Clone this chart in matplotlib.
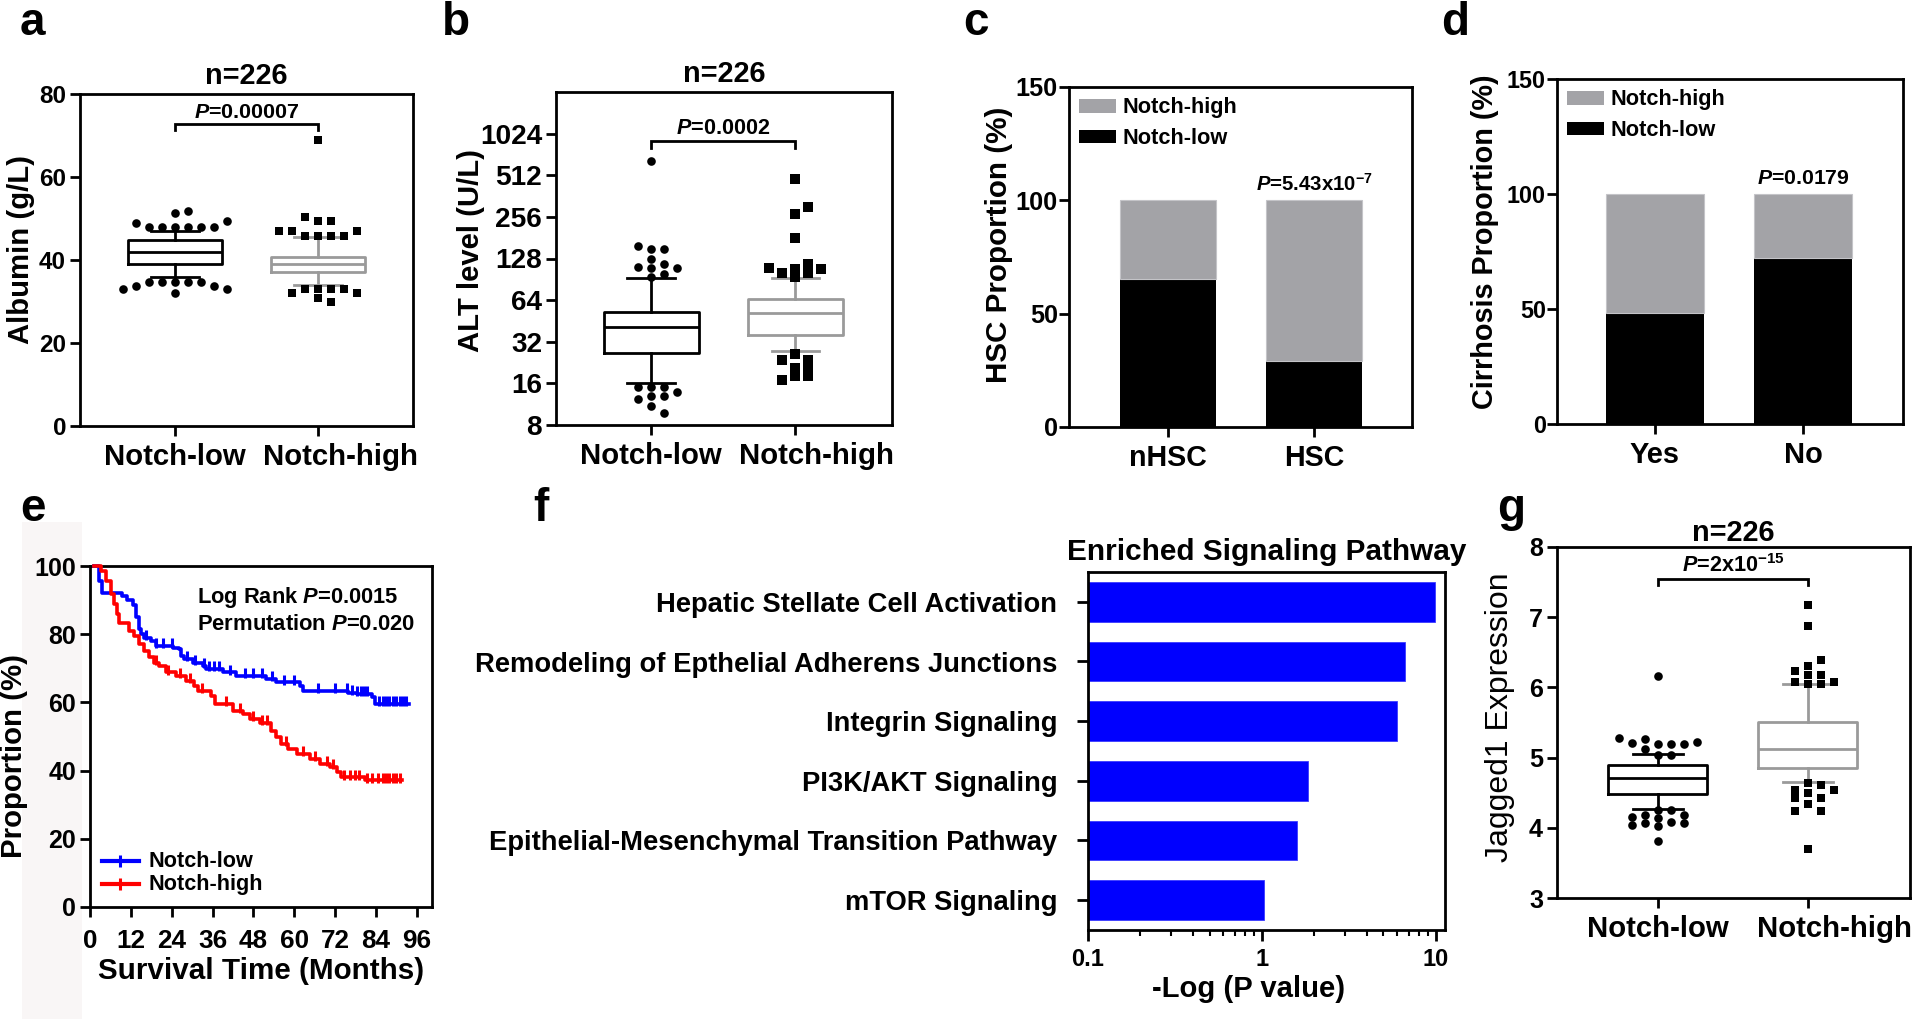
import numpy as np
import matplotlib
matplotlib.use('Agg')
import matplotlib.pyplot as plt
from matplotlib.patches import Patch, Rectangle
from matplotlib.lines import Line2D
import matplotlib.ticker as mticker
from matplotlib.transforms import ScaledTranslation

# ---------------- data ----------------
group_labels = ['Notch-low', 'Notch-high']

# (a) Albumin: whislo, q1, median, q3, whishi
alb_low_box = [36.0, 39.1, 42.0, 44.9, 46.9]
alb_high_box = [34.0, 37.1, 39.0, 40.8, 45.5]
alb_low_out = [47.9, 47.9, 47.9, 47.9, 47.9, 47.9, 49.0, 49.3, 51.3, 51.9,
               34.8, 34.8, 34.8, 34.8, 34.8, 33.8, 33.8, 33.0, 33.0, 32.0]
alb_high_out = [45.9, 45.9, 45.9, 45.9, 47.1, 47.1, 47.1, 49.3, 49.3, 50.3, 69.0,
                33.0, 33.0, 33.0, 33.0, 32.0, 32.0, 30.9, 30.0]
alb_yticks = [0, 20, 40, 60, 80]

# (b) ALT
alt_low_box = [16.2, 26.7, 40.9, 52.5, 92.8]
alt_high_box = [27.3, 36.0, 51.6, 65.1, 92.8]
alt_low_out = [94, 99, 110, 112, 110, 117, 127, 150, 150, 158, 650,
               15.1, 15.1, 15.1, 13.9, 12.9, 12.9, 12.4, 11.0, 9.8]
alt_high_out = [94, 100, 100, 108, 108, 110, 117, 180, 268, 300, 480,
                26.0, 23.8, 23.8, 20.5, 20.5, 18.0, 18.0, 16.9]
alt_yticks = [8, 16, 32, 64, 128, 256, 512, 1024]

# (c) HSC proportion
hsc_cats = ['nHSC', 'HSC']
hsc_low = [65.3, 29.3]
hsc_high = [34.7, 70.7]

# (d) Cirrhosis proportion
cir_cats = ['Yes', 'No']
cir_low = [48.3, 72.2]
cir_high = [51.7, 27.8]
prop_yticks = [0, 50, 100, 150]

# (e) Kaplan-Meier
km_low_t = [1.2, 2.7, 3.6, 9.5, 11.0, 12.5, 13.5, 14.3, 15.0, 15.9, 17.9, 19.4, 24.3, 26.3,
            26.7, 27.7, 30.2, 33.1, 34.1, 39.0, 43.0, 51.8, 54.8, 61.7, 62.6, 75.9, 78.4,
            82.8, 83.8, 93.6]
km_low_s = [100, 95.6, 92.2, 91.2, 90.0, 88.5, 85.0, 81.5, 80.0, 79.0, 78.0, 76.6, 76.0, 75.6,
            73.7, 72.7, 71.7, 70.7, 69.8, 68.8, 67.8, 66.8, 65.9, 64.9, 63.4, 62.9, 62.4,
            61.5, 59.5, 59.5]
km_high_t = [1.2, 3.1, 4.6, 6.1, 7.1, 7.8, 8.6, 11.5, 13.0, 14.5, 15.9, 17.4, 18.9, 20.4,
             22.3, 25.3, 28.2, 30.7, 31.7, 35.6, 36.6, 42.0, 45.0, 46.9, 49.9, 53.3, 54.8,
             56.2, 58.2, 60.7, 64.6, 67.6, 70.5, 72.5, 73.9, 80.8, 91.6]
km_high_s = [100, 98.5, 95.6, 91.7, 88.8, 85.9, 83.4, 81.0, 79.5, 77.0, 75.1, 73.2, 71.7, 70.7,
             68.8, 67.8, 66.3, 64.9, 63.4, 62.0, 59.5, 57.6, 56.6, 55.1, 54.1, 51.7, 49.8,
             47.8, 46.3, 44.9, 43.4, 42.0, 41.0, 39.5, 38.0, 37.1, 37.1]
km_low_censor = [16.5, 19.5, 21.5, 24.0, 28.5, 31.0, 33.5, 35.0, 36.5, 38.0, 41.0, 45.5, 48.0,
                 50.5, 53.5, 57.0, 60.0, 67.0, 72.0, 75.5, 77.0, 78.5, 79.5, 80.5, 81.5, 85.0,
                 86.0, 87.0, 88.0, 89.0, 90.0, 91.0, 92.0, 93.0]
km_high_censor = [19.5, 23.0, 26.5, 29.5, 33.0, 40.0, 44.0, 48.0, 50.5, 52.0, 57.5, 62.5, 66.0,
                  69.5, 71.5, 74.5, 76.5, 78.0, 79.0, 81.5, 83.0, 84.5, 86.0, 87.0, 88.0, 89.0,
                  90.0, 91.0]
km_xticks = [0, 12, 24, 36, 48, 60, 72, 84, 96]
km_yticks = [0, 20, 40, 60, 80, 100]

# (f) Enriched pathways
path_names = ['Hepatic Stellate Cell Activation',
              'Remodeling of Epthelial Adherens Junctions',
              'Integrin Signaling',
              'PI3K/AKT Signaling',
              'Epithelial-Mesenchymal Transition Pathway',
              'mTOR Signaling']
path_vals = [9.8, 6.52, 5.92, 1.75, 1.49, 0.93]

# (g) Jagged1
jag_low_box = [4.27, 4.48, 4.71, 4.90, 5.05]
jag_high_box = [4.65, 4.85, 5.12, 5.50, 6.05]
jag_low_out = [5.04, 5.04, 5.12, 5.19, 5.19, 5.19, 5.21, 5.22, 5.26, 5.28, 6.16,
               4.26, 4.26, 4.18, 4.18, 4.16, 4.14, 4.08, 4.07, 4.07, 4.04, 4.02, 3.81]
jag_high_out = [6.05, 6.05, 6.07, 6.08, 6.17, 6.17, 6.24, 6.31, 6.39, 6.88, 7.18,
                4.64, 4.61, 4.54, 4.54, 4.49, 4.43, 4.42, 4.34, 4.24, 4.24, 3.70]
jag_yticks = [3, 4, 5, 6, 7, 8]

# ---------------- style ----------------
FONT = 'Liberation Sans'
plt.rcParams['font.family'] = [FONT, 'DejaVu Sans']
plt.rcParams['font.weight'] = 'bold'
plt.rcParams['axes.labelweight'] = 'bold'
plt.rcParams['axes.titleweight'] = 'bold'
plt.rcParams['axes.linewidth'] = 2.0
plt.rcParams['mathtext.fontset'] = 'custom'
plt.rcParams['mathtext.rm'] = FONT + ':bold'
plt.rcParams['mathtext.it'] = FONT + ':italic:bold'
plt.rcParams['mathtext.bf'] = FONT + ':bold'
plt.rcParams['mathtext.default'] = 'rm'

W, H = 1920, 1019
fig = plt.figure(figsize=(W / 100, H / 100), dpi=100)
fig.patch.set_facecolor('white')

BLACK = '#000000'
GRAYLINE = '#9a9a9a'
GRAYBAR = '#a3a3a7'

fit_texts = []     # (text artist, target width px)


def add_axes_px(l, r, t, b):
    return fig.add_axes([l / W, 1 - b / H, (r - l) / W, (b - t) / H])


def style_axes(ax, xsize, ysize, ypad=3, xpad=5):
    ax.tick_params(axis='both', which='major', direction='out', length=7, width=2,
                   top=False, right=False)
    ax.tick_params(axis='x', labelsize=xsize, pad=xpad)
    ax.tick_params(axis='y', labelsize=ysize, pad=ypad)


def box_stats(b):
    return dict(whislo=b[0], q1=b[1], med=b[2], q3=b[3], whishi=b[4], fliers=[])


def draw_box(ax, pos, b, color, width=0.66):
    ax.bxp([box_stats(b)], positions=[pos], widths=width, capwidths=width * 0.5,
           showfliers=False, manage_ticks=False,
           boxprops=dict(color=color, linewidth=2),
           medianprops=dict(color=color, linewidth=2),
           whiskerprops=dict(color=color, linewidth=2),
           capprops=dict(color=color, linewidth=2))


def swarm_x(ax, values, center, sep_px=13.0, dy_px=7.5):
    pos = ax.get_position()
    x0, x1 = ax.get_xlim()
    upp = (x1 - x0) / (pos.width * W)
    pts = np.column_stack([np.full(len(values), center), np.asarray(values, float)])
    ys = ax.transData.transform(pts)[:, 1]
    cands = [0.0]
    for k in range(1, 30):
        cands += [k * sep_px / 2, -k * sep_px / 2]
    placed, xs = [], []
    for y in ys:
        for c in cands:
            if all(abs(c - px) >= sep_px * 0.95 or abs(y - py) >= dy_px for px, py in placed):
                placed.append((c, y))
                xs.append(center + c * upp)
                break
    return np.array(xs)


def bracket(ax, y_low, y_high, text, ty, fs, target):
    ax.plot([0, 0, 1, 1], [y_low, y_high, y_high, y_low], color='black', lw=2,
            solid_joinstyle='miter', clip_on=False)
    t = ax.text(0.5, ty, text, ha='center', va='center', fontsize=fs, fontweight='bold')
    fit_texts.append((t, target))


def letter(x, y, s):
    fig.text(x / W, 1 - y / H, s, fontsize=33, fontweight='bold', ha='left', va='baseline')


# ---------------- panel a ----------------
axa = add_axes_px(80, 413, 94, 426)
axa.set_xlim(-0.665, 1.665)
axa.set_ylim(0, 80)
axa.set_yticks(alb_yticks)
axa.set_xticks([0, 1])
axa.set_xticklabels(group_labels)
draw_box(axa, 0, alb_low_box, BLACK)
draw_box(axa, 1, alb_high_box, GRAYLINE)
axa.plot(swarm_x(axa, alb_low_out, 0), alb_low_out, 'o', color='black', ms=6.2, mew=0)
axa.plot(swarm_x(axa, alb_high_out, 1), alb_high_out, 's', color='black', ms=6.2, mew=0)
bracket(axa, 71.4, 72.8, r'$\mathit{P}$=0.00007', 75.6, 14, 106)
axa.set_title('n=226', fontsize=17, pad=7)
axa.set_ylabel('Albumin (g/L)', fontsize=18)
axa.yaxis.set_label_coords(-0.135, 0.533)
style_axes(axa, 20, 14.5)
letter(20, 35, 'a')

# ---------------- panel b ----------------
axb = add_axes_px(556, 892, 92, 425)
axb.set_yscale('log', base=2)
axb.set_xlim(-0.66, 1.67)
axb.set_ylim(8, 2048)
axb.set_yticks(alt_yticks)
axb.yaxis.set_major_formatter(mticker.FuncFormatter(lambda v, p: '%d' % round(v)))
axb.yaxis.set_minor_locator(mticker.NullLocator())
axb.set_xticks([0, 1])
axb.set_xticklabels(group_labels)
draw_box(axb, 0, alt_low_box, BLACK)
draw_box(axb, 1, alt_high_box, GRAYLINE)
axb.plot(swarm_x(axb, alt_low_out, 0), alt_low_out, 'o', color='black', ms=6.2, mew=0)
axb.plot(swarm_x(axb, alt_high_out, 1), alt_high_out, 's', color='black', ms=6.5, mew=0)
axb.plot([0, 0, 1, 1], [810, 905, 905, 810], color='black', lw=2, solid_joinstyle='miter')
tb = axb.text(0.5, 1110, r'$\mathit{P}$=0.0002', ha='center', va='center', fontsize=14)
fit_texts.append((tb, 95))
axb.set_title('n=226', fontsize=17, pad=7)
axb.set_ylabel('ALT level (U/L)', fontsize=17)
axb.yaxis.set_label_coords(-0.21, 0.524)
style_axes(axb, 20, 14.5)
letter(442, 35, 'b')


# ---------------- panels c, d ----------------
def stacked(ax, cats, low, high, ylabel, ptext, pidx, ptarget):
    x = np.arange(len(cats))
    ax.bar(x, low, width=0.66, color=BLACK, edgecolor=BLACK, linewidth=0)
    ax.bar(x, high, bottom=low, width=0.66, color=GRAYBAR, edgecolor='#c4c4c8', linewidth=0.8)
    ax.set_ylim(0, 150)
    ax.set_yticks(prop_yticks)
    ax.set_xticks(x)
    ax.set_xticklabels(cats)
    tops = np.asarray(low) + np.asarray(high)
    t = ax.text(x[pidx], tops[pidx] + 2.5, ptext, ha='center', va='bottom', fontsize=13)
    fit_texts.append((t, ptarget))
    handles = [Patch(facecolor=GRAYBAR, edgecolor='none', label='Notch-high'),
               Patch(facecolor=BLACK, edgecolor='none', label='Notch-low')]
    leg = ax.legend(handles=handles, loc='upper left', bbox_to_anchor=(0.0, 1.0), frameon=False,
                    handlelength=1.75, handleheight=0.65, handletextpad=0.3,
                    labelspacing=0.45, borderaxespad=0.2, borderpad=0.3,
                    prop=dict(weight='bold', size=15))
    fit_texts.append((leg.get_texts()[0], 115))
    fit_texts.append((leg.get_texts()[1], 106))
    ax.set_ylabel(ylabel, fontsize=18)
    style_axes(ax, 19, 15.5, ypad=1)


axc = add_axes_px(1069, 1412, 87, 427)
axc.set_xlim(-0.68, 1.67)
stacked(axc, hsc_cats, hsc_low, hsc_high, 'HSC Proportion (%)',
        r'$\mathit{P}$=5.43x10$^{-7}$', 1, 117)
axc.yaxis.set_label_coords(-0.162, 0.535)
letter(963, 35, 'c')

axd = add_axes_px(1557, 1903, 79, 424)
axd.set_xlim(-0.662, 1.676)
stacked(axd, cir_cats, cir_low, cir_high, 'Cirrhosis Proportion (%)',
        r'$\mathit{P}$=0.0179', 1, 93)
axd.yaxis.set_label_coords(-0.168, 0.527)
letter(1441, 35, 'd')

# ---------------- panel e ----------------
fig.patches.append(Rectangle((22 / W, 0), 60 / W, 1 - 522 / H, transform=fig.transFigure,
                             facecolor='#f9f6f6', edgecolor='none', zorder=-10))
axe = add_axes_px(90, 432, 566, 907)
axe.set_xlim(0, 100.5)
axe.set_ylim(0, 100)
axe.set_xticks(km_xticks)
axe.set_yticks(km_yticks)
BLUE, RED = '#0000ff', '#ff0000'


def km(ax, t, s, cens, color):
    t = np.asarray(t, float)
    s = np.asarray(s, float)
    ax.step(t, s, where='post', color=color, lw=2.6, clip_on=False, zorder=3)
    cens = np.asarray(cens, float)
    idx = np.searchsorted(t, cens, side='right') - 1
    ax.plot(cens, s[idx] + 0.8, '|', color=color, ms=7, mew=2.2, zorder=3)


km(axe, km_low_t, km_low_s, km_low_censor, BLUE)
km(axe, km_high_t, km_high_s, km_high_censor, RED)
leg_handles = [Line2D([], [], color=BLUE, lw=3, marker='|', ms=8, mew=2.2),
               Line2D([], [], color=RED, lw=3, marker='|', ms=8, mew=2.2)]
lege = axe.legend(leg_handles, group_labels, loc='lower left', frameon=False,
                  prop=dict(weight='bold', size=14), handlelength=1.9, handletextpad=0.5,
                  labelspacing=0.1, borderaxespad=0.4, borderpad=0.2)
fit_texts.append((lege.get_texts()[0], 105))
fit_texts.append((lege.get_texts()[1], 115))
t1 = axe.text(0.313, 0.907, r'Log Rank $\mathit{P}$=0.0015', transform=axe.transAxes,
              ha='left', va='center', fontsize=13.5)
t2 = axe.text(0.313, 0.828, r'Permutation $\mathit{P}$=0.020', transform=axe.transAxes,
              ha='left', va='center', fontsize=13.5)
fit_texts.append((t1, 202))
fit_texts.append((t2, 218))
axe.set_xlabel('Survival Time (Months)', fontsize=18, labelpad=3)
axe.set_ylabel('Proportion (%)', fontsize=18)
axe.yaxis.set_label_coords(-0.181, 0.444)
style_axes(axe, 16.5, 15, xpad=9)
letter(20, 521, 'e')

# ---------------- panel f ----------------
axf = add_axes_px(1088, 1445, 572, 930)
axf.set_xscale('log')
axf.set_xlim(0.1, 11.3)
yy = np.arange(len(path_names))
axf.barh(yy, path_vals, left=0.1, height=0.67, color='#0000ff', edgecolor='#3a3aff',
         linewidth=0.6)
axf.set_ylim(len(path_names) - 0.5, -0.5)
axf.set_yticks(yy)
axf.set_yticklabels(path_names)
axf.set_xticks([0.1, 1, 10])
axf.xaxis.set_major_formatter(mticker.FuncFormatter(lambda v, p: ('%g' % v)))
axf.xaxis.set_minor_locator(mticker.LogLocator(base=10, subs=np.arange(2, 10) / 10.0 * 10 / 10))
axf.xaxis.set_minor_formatter(mticker.NullFormatter())
axf.set_title('Enriched Signaling Pathway', fontsize=17.5, pad=9)
axf.set_xlabel('-Log (P value)', fontsize=17, labelpad=4)
axf.xaxis.set_label_coords(0.45, -0.125)
style_axes(axf, 15, 16)
axf.tick_params(axis='y', length=8, pad=14)
axf.tick_params(axis='x', which='major', length=8)
axf.tick_params(axis='x', which='minor', direction='out', length=4, width=1.5)
letter(533, 521, 'f')

# ---------------- panel g ----------------
axg = add_axes_px(1557, 1910, 547, 898)
axg.set_xlim(-0.673, 1.68)
axg.set_ylim(3, 8)
axg.set_yticks(jag_yticks)
axg.set_xticks([0, 1])
axg.set_xticklabels(group_labels)
draw_box(axg, 0, jag_low_box, BLACK)
draw_box(axg, 1, jag_high_box, GRAYLINE)
axg.plot(swarm_x(axg, jag_low_out, 0), jag_low_out, 'o', color='black', ms=6.2, mew=0)
axg.plot(swarm_x(axg, jag_high_out, 1), jag_high_out, 's', color='black', ms=6.2, mew=0)
bracket(axg, 7.46, 7.55, r'$\mathit{P}$=2x10$^{-15}$', 7.74, 13, 103)
axg.set_title('n=226', fontsize=17, pad=3)
axg.set_ylabel('Jagged1 Expression', fontsize=19, fontweight='normal')
axg.yaxis.set_label_coords(-0.119, 0.516)
style_axes(axg, 20, 15)
letter(1497, 521, 'g')

# ---------------- fit text sizes to the reference's measured extents ----------------
fig.canvas.draw()
rend = fig.canvas.get_renderer()


def width_of(t):
    return t.get_window_extent(rend).width


def height_of(t):
    return t.get_window_extent(rend).height


# y-axis labels (vertical extent in px)
for ax, tgt in [(axa, 188), (axb, 203), (axc, 277), (axd, 335), (axe, 204), (axg, 290)]:
    lab = ax.yaxis.label
    lab.set_fontsize(lab.get_fontsize() * tgt / height_of(lab))

# x labels and titles
for lab, tgt in [(axe.xaxis.label, 325), (axf.xaxis.label, 193),
                 (axa.title, 83), (axb.title, 83), (axg.title, 83), (axf.title, 398)]:
    lab.set_fontsize(lab.get_fontsize() * tgt / width_of(lab))

# tick labels: (axis, which axis, tick index, target width)
tick_jobs = [(axa, 'x', 0, 142), (axb, 'x', 0, 142), (axg, 'x', 0, 142),
             (axc, 'x', 0, 78), (axd, 'x', 0, 50), (axe, 'x', 1, 29), (axf, 'x', 0, 33),
             (axa, 'y', -1, 27), (axb, 'y', -1, 62), (axc, 'y', -1, 42), (axd, 'y', -1, 39),
             (axe, 'y', -1, 42), (axf, 'y', 0, 401), (axg, 'y', -1, 14)]
for ax, which, i, tgt in tick_jobs:
    labs = ax.get_xticklabels() if which == 'x' else ax.get_yticklabels()
    lab = labs[i]
    new = lab.get_fontsize() * tgt / width_of(lab)
    ax.tick_params(axis=which, which='major', labelsize=new)

for t, tgt in fit_texts:
    t.set_fontsize(t.get_fontsize() * tgt / width_of(t))

# the reference's "Notch-high" labels sit a little right of their ticks
for ax, dx in [(axa, 23), (axb, 21), (axg, 27)]:
    lab = ax.get_xticklabels()[1]
    lab.set_transform(lab.get_transform() + ScaledTranslation(dx / 100.0, 0, fig.dpi_scale_trans))

fig.savefig('out.png', dpi=100, facecolor='white')
